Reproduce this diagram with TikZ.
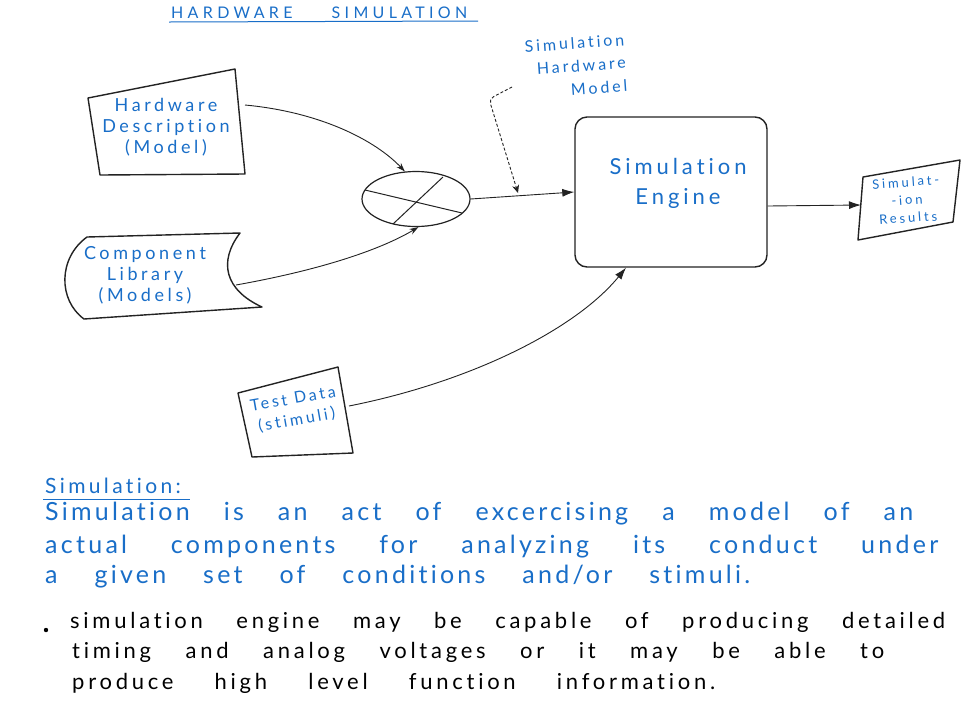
\documentclass[tikz,border=0pt]{standalone}
\usepackage{fontspec}
\setmainfont{Lato}[Ligatures=NoCommon]
\usetikzlibrary{shapes.geometric,arrows.meta}
\definecolor{ink}{RGB}{25,110,200}
\definecolor{pen}{RGB}{35,35,35}
\newcommand{\wide}[1]{\addfontfeature{LetterSpace=#1}}
\tikzset{
 outline/.style={draw=pen, line width=1.4pt, line join=round},
 conn/.style={draw=pen, line width=0.9pt},
 arr/.style={conn, -{Latex[length=12pt,width=8pt]}},
 thinarr/.style={conn, -{Stealth[length=9pt,width=6pt]}},
 boxtext/.style={text=ink, align=center, font=\fontsize{18}{21}\selectfont\wide{20}, inner sep=0pt},
 bodytext/.style={text=ink, anchor=base west, inner sep=0pt, font=\fontsize{25}{28}\selectfont\wide{13}},
 notetext/.style={text=black, anchor=base west, inner sep=0pt, font=\fontsize{22}{26}\selectfont\wide{17}},
}
\begin{document}
\begin{tikzpicture}[x=1pt,y=-1pt]
\useasboundingbox[fill=white] (0,0) rectangle (974,724);

% title
\node[text=ink, anchor=base west, inner sep=0pt, font=\fontsize{16}{16}\selectfont\wide{27}] (title) at (171,18) {\makebox[296pt][s]{HARDWARE SIMULATION}};
\draw[ink, line width=1pt] (169,22) -- (478,21);

% hardware description
\draw[outline] (88,98) -- (235,69) -- (245,174) -- (100,175) -- cycle;
\node[boxtext] (hd) at (166,127) {Hardware\\Description\\(Model)};
\coordinate (hdR) at (245,105);

% component library
\draw[outline] (87,237) -- (240,233) .. controls (218,262) and (225,290) .. (262,307) -- (84,319) .. controls (58,300) and (58,258) .. (87,237) -- cycle;
\node[boxtext] (cl) at (145,275) {Component\\Library\\(Models)};
\coordinate (clR) at (236,285);

% mixer
\node[ellipse, draw=pen, line width=1.2pt, minimum width=108pt, minimum height=55pt, inner sep=0pt] (mix) at (416,199) {};
\draw[pen, line width=1pt] (365,190) -- (462,213);
\draw[pen, line width=1pt] (393,224) -- (443,177);

% engine
\node[outline, rounded corners=12pt, minimum width=192pt, minimum height=150pt] (eng) at (671,192) {};
\node[text=ink, align=center, font=\fontsize{22}{30}\selectfont\wide{18}, inner sep=0pt] (englab) at (678,183) {Simulation\\Engine};

% results
\draw[outline] (863,177) -- (960,160) -- (953,222) -- (858,240) -- cycle;
\node[text=ink, align=center, font=\fontsize{13}{18}\selectfont\wide{22}, inner sep=0pt, rotate=4] (res) at (907,200) {Simulat-\\-ion\\Results};
\coordinate (resL) at (861,205);

% test data
\draw[outline] (238,393) -- (338,367) -- (353,453) -- (252,457) -- cycle;
\node[boxtext, font=\fontsize{16}{21}\selectfont\wide{18}, rotate=10] (td) at (295,410) {Test Data\\(stimuli)};
\coordinate (tdR) at (349,406);

% hardware model label
\node[text=ink, align=right, font=\fontsize{16}{23}\selectfont\wide{18}, inner sep=0pt, rotate=4] (hwm) at (576,66) {Simulation\\Hardware\\Model};
\coordinate (hwmS) at (512,87);
\coordinate (hwmT) at (518,193);

% connectors
\draw[thinarr] (hdR) .. controls (320,112) and (375,140) .. (mix.112);
\draw[thinarr] (clR) .. controls (320,270) and (380,250) .. (mix.275);
\draw[arr] (mix.east) -- (eng.west);
\draw[conn, densely dashed, rounded corners=5pt, -{Stealth[length=8pt,width=7pt]}] (hwmS) -- (489,99) -- (hwmT);
\draw[arr] ([yshift=-14pt]eng.east) -- (resL);
\draw[arr] (tdR) .. controls (470,382) and (575,330) .. ([xshift=-45pt]eng.south);

% definition text
\node[text=ink, anchor=base west, inner sep=0pt, font=\fontsize{21}{24}\selectfont\wide{16}] (defh) at (45,493) {Simulation:};
\draw[ink, line width=1pt] (43,499) -- (190,499);
\node[bodytext] (d1) at (45,520) {\makebox[868pt][s]{Simulation is an act of excercising a model of an}};
\node[bodytext] (d2) at (45,553) {\makebox[893pt][s]{actual components for analyzing its conduct under}};
\node[bodytext] (d3) at (45,583) {\makebox[705pt][s]{a given set of conditions and/or stimuli.}};

% bullet
\fill[black] (46,630) circle (2.2pt);
\node[notetext] (b1) at (70,628) {\makebox[875pt][s]{simulation engine may be capable of producing detailed}};
\node[notetext] (b2) at (72,658) {\makebox[812pt][s]{timing and analog voltages or it may be able to}};
\node[notetext] (b3) at (72,689) {\makebox[643pt][s]{produce high level function information.}};
\end{tikzpicture}
\end{document}
